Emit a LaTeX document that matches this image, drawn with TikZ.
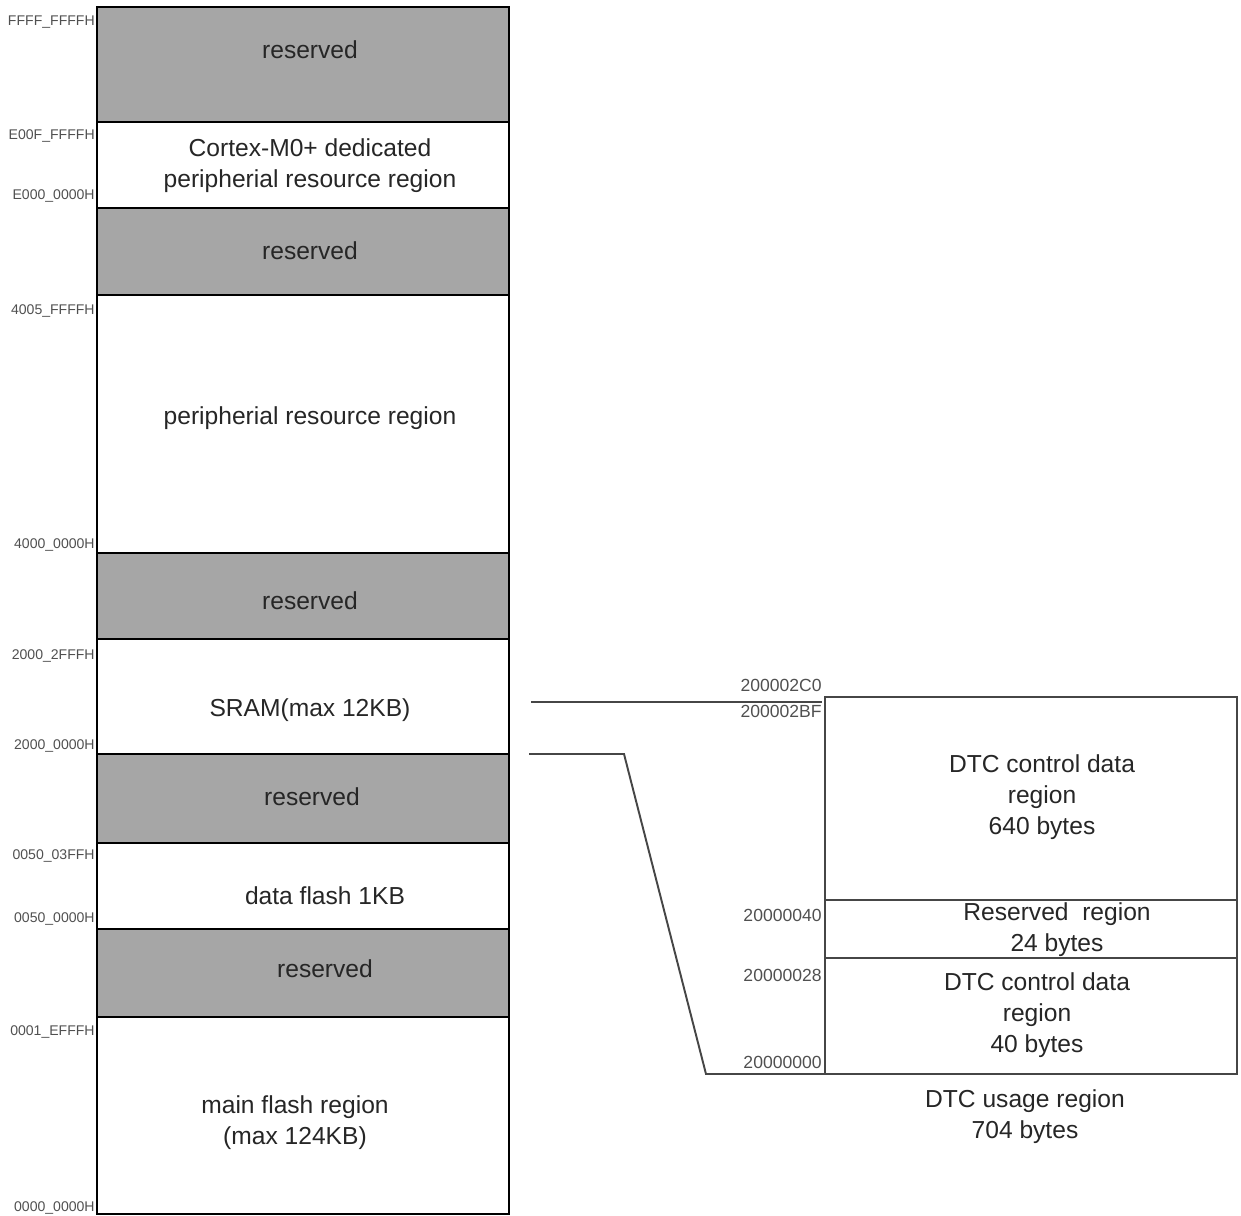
\documentclass[tikz,border=0pt]{standalone}
\usepackage{fontspec}
\setmainfont{Liberation Sans}
\usetikzlibrary{positioning}
\definecolor{cRsv}{RGB}{166, 166, 166}
\definecolor{tDark}{RGB}{38, 38, 38}
\definecolor{tAddr}{RGB}{80, 80, 80}
\definecolor{bLine}{RGB}{70, 70, 70}

\begin{document}
\begin{tikzpicture}[
    x=0.02cm, y=-0.02cm,
    mem/.style={
        draw=black,
        line width=1.6pt,
        minimum width=8.24cm,
        minimum height=#1,
        anchor=north west,
        inner sep=0pt,
        outer sep=0pt
    },
    rsv/.style={mem=#1, fill=cRsv},
    dtc/.style={
        draw=bLine,
        line width=1.1pt,
        minimum width=8.24cm,
        minimum height=#1,
        anchor=north west,
        inner sep=0pt,
        outer sep=0pt
    },
    txt/.style={
        font=\fontsize{14}{17.6}\selectfont,
        text=tDark,
        align=center,
        inner sep=0pt
    },
    addr/.style={font=\fontsize{8}{9}\selectfont, text=tAddr, anchor=east, inner sep=0pt},
    daddr/.style={font=\fontsize{10}{12}\selectfont, text=tAddr, anchor=east, inner sep=0pt},
    link/.style={draw=bLine, line width=1.1pt}
]
\useasboundingbox (0,0) rectangle (1241,1216);

% memory map
\node[rsv=2.30cm] (rsv1) at (97,7) {};
\node[mem=1.72cm] (cm0) at (97,122) {};
\node[rsv=1.74cm] (rsv2) at (97,208) {};
\node[mem=5.16cm] (periph) at (97,295) {};
\node[rsv=1.72cm] (rsv3) at (97,553) {};
\node[mem=2.30cm] (sram) at (97,639) {};
\node[rsv=1.78cm] (rsv4) at (97,754) {};
\node[mem=1.72cm] (dflash) at (97,843) {};
\node[rsv=1.76cm] (rsv5) at (97,929) {};
\node[mem=3.94cm] (mflash) at (97,1017) {};

\node[txt] (tRsv1) at (310,50) {reserved};
\node[txt] (tCm0) at (310,165.5) {Cortex-M0+ dedicated\\peripherial resource region};
\node[txt] (tRsv2) at (310,251) {reserved};
\node[txt] (tPeriph) at (310,418) {peripherial resource region};
\node[txt] (tRsv3) at (310,601) {reserved};
\node[txt] (tSram) at (310,710) {SRAM(max 12KB)};
\node[txt] (tRsv4) at (312,797) {reserved};
\node[txt] (tDflash) at (325,896) {data flash 1KB};
\node[txt] (tRsv5) at (325,969) {reserved};
\node[txt] (tMflash) at (295,1122.5) {main flash region\\(max 124KB)};

% addresses
\node[addr] (aFFFF) at (95,22) {FFFF\_FFFFH};
\node[addr] (aE00F) at (95,136) {E00F\_FFFFH};
\node[addr] (aE000) at (95,196) {E000\_0000H};
\node[addr] (a4005) at (95,311) {4005\_FFFFH};
\node[addr] (a4000) at (95,545) {4000\_0000H};
\node[addr] (a2FFF) at (95,656) {2000\_2FFFH};
\node[addr] (a2000) at (95,746) {2000\_0000H};
\node[addr] (a03FF) at (95,856) {0050\_03FFH};
\node[addr] (a0050) at (95,919) {0050\_0000H};
\node[addr] (aEFFF) at (95,1032) {0001\_EFFFH};
\node[addr] (a0000) at (95,1208) {0000\_0000H};

% DTC usage region
\node[dtc=4.06cm] (dtc1) at (825,697) {};
\node[dtc=1.16cm] (dtcrsv) at (825,900) {};
\node[dtc=2.32cm] (dtc2) at (825,958) {};

\node[txt] (tDtc1) at (1042,797) {DTC control data\\region\\640 bytes};
\node[txt] (tDtcrsv) at (1057,929.5) {Reserved\ \ region\\24 bytes};
\node[txt] (tDtc2) at (1037,1015) {DTC control data\\region\\40 bytes};
\node[txt] (tUsage) at (1025,1117) {DTC usage region\\704 bytes};

\node[daddr] (d2C0) at (822,685) {200002C0};
\node[daddr] (d2BF) at (822,711) {200002BF};
\node[daddr] (d040) at (822,915) {20000040};
\node[daddr] (d028) at (822,975) {20000028};
\node[daddr] (d000) at (822,1062) {20000000};

% links
\coordinate (top0) at (531,702);
\coordinate (top1) at (822,702);
\coordinate (bot0) at (529,754);
\coordinate (bot1) at (624,754);
\coordinate (bot2) at (706,1074);
\draw[link] (top0) -- (top1);
\draw[link] (bot0) -- (bot1) -- (bot2) -- (dtc2.south west);

\end{tikzpicture}
\end{document}
